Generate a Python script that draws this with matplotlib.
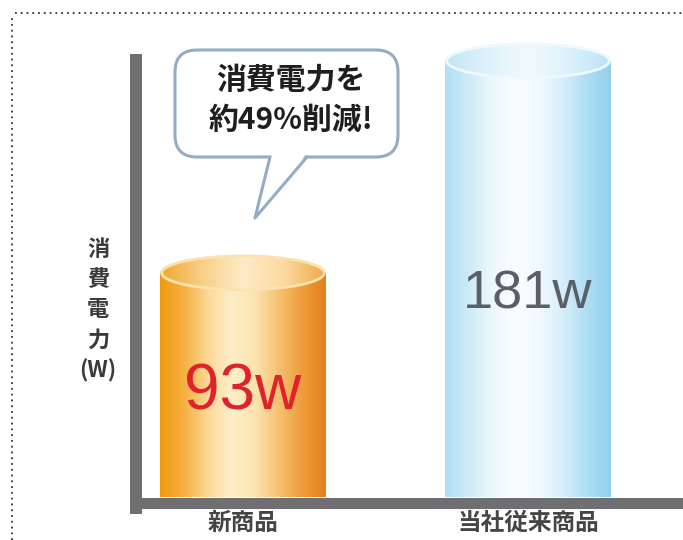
import matplotlib.pyplot as plt
import numpy as np
from matplotlib.colors import LinearSegmentedColormap
from matplotlib.patches import Rectangle, Ellipse, FancyBboxPatch, Polygon
from matplotlib.lines import Line2D

plt.rcParams['font.family'] = ['Noto Sans CJK JP', 'DejaVu Sans']

products = ["新商品", "当社従来商品"]
watts = [93, 181]
value_labels = ["93w", "181w"]
value_colors = ["#e1222a", "#59606a"]
value_sizes = [46, 39]
bubble_text = "消費電力を\n約49%削減!"
ylabel = "消\n費\n電\n力\n(W)"

# horizontal shading of each cylinder, left edge -> right edge
body_stops = [
    ["#f09a12", "#f5b140", "#fbd896", "#fdeec8", "#fce4b0", "#f6c272", "#ee9c3c", "#e2801c"],
    ["#b3def3", "#cdebf8", "#ecf8fd", "#fafdff", "#f0f9fd", "#d5eef9", "#aedef3", "#93d0ed"],
]
lid_stops = [
    ["#f2a630", "#f8cf86", "#fdebc8", "#fbd9a0", "#f0a84a"],
    ["#c2e5f6", "#ddf2fb", "#f2fafe", "#dcf1fb", "#bbe2f5"],
]
lid_edges = ["#fbe3b0", "#eef9fe"]

fig = plt.figure(figsize=(6.83, 5.4), dpi=100)
ax = fig.add_axes([142 / 683, 43 / 540, 541 / 683, 482 / 540])

bar_w = 0.579
lid_h = 14.9
grad = np.linspace(0, 1, 256).reshape(1, -1)


def draw_cylinder(x, top, stops, lstops, ledge):
    cmap = LinearSegmentedColormap.from_list("body", stops)
    x0, x1 = x - bar_w / 2, x + bar_w / 2
    body = Rectangle((x0, 0), bar_w, top, transform=ax.transData)
    im = ax.imshow(grad, cmap=cmap, extent=[x0, x1, 0, top], aspect='auto', zorder=2)
    im.set_clip_path(body)
    lcmap = LinearSegmentedColormap.from_list("lid", lstops)
    lid = Ellipse((x, top), bar_w, lid_h, transform=ax.transData)
    im2 = ax.imshow(grad, cmap=lcmap, extent=[x0, x1, top - lid_h / 2, top + lid_h / 2],
                    aspect='auto', zorder=3)
    im2.set_clip_path(lid)
    ax.add_patch(Ellipse((x, top), bar_w * 0.985, lid_h * 0.94, fill=False,
                         ec=ledge, lw=2.0, zorder=4))


for i in range(len(watts)):
    draw_cylinder(i, watts[i], body_stops[i], lid_stops[i], lid_edges[i])
    ax.text(i, watts[i] * 0.465, value_labels[i], color=value_colors[i], ha='center',
            va='center', fontsize=value_sizes[i], family=['Liberation Sans', 'DejaVu Sans'],
            zorder=5)

ax.set_xlim(-0.3544, 1.5439)
ax.set_ylim(0, 200)
ax.set_facecolor('none')

for s in ['top', 'right']:
    ax.spines[s].set_visible(False)
axis_gray = "#6f6f72"
ax.spines['left'].set_position(('outward', 4.32))
ax.spines['left'].set_linewidth(8.64)
ax.spines['left'].set_color(axis_gray)
ax.spines['left'].set_bounds(-4.6, 181.3)
ax.spines['bottom'].set_position(('outward', 3.96))
ax.spines['bottom'].set_linewidth(7.92)
ax.spines['bottom'].set_color(axis_gray)

ax.set_yticks([])
ax.set_xticks(range(len(products)), products)
ax.tick_params(axis='x', length=0, pad=6, labelsize=17, labelcolor='#454545')
for lab in ax.get_xticklabels():
    lab.set_fontweight('bold')

fig.text(98 / 683, 1 - 310 / 540, ylabel, ha='center', va='center', fontsize=16,
         fontweight='bold', color='#3a3a3a', linespacing=1.4)

# speech bubble
inch = fig.dpi_scale_trans
bubble = FancyBboxPatch((1.75, 3.83), 2.23, 1.07, boxstyle="round,pad=0,rounding_size=0.22",
                        transform=inch, fc='white', ec='#93adc6', lw=2.2, zorder=10)
fig.add_artist(bubble)
tail = Polygon([(2.70, 3.87), (3.07, 3.87), (2.55, 3.22)], closed=True, transform=inch,
               fc='white', ec='none', zorder=11)
fig.add_artist(tail)
fig.add_artist(Line2D([2.70, 2.55, 3.07], [3.83, 3.22, 3.83], transform=inch,
                      color='#93adc6', lw=2.2, zorder=12))
fig.text(291 / 683, 1 - 100 / 540, bubble_text, ha='center', va='center', fontsize=21.5,
         fontweight='bold', color='#1e1e1e', linespacing=1.42, zorder=13)

# dotted frame
fig.add_artist(Line2D([15 / 683, 1], [1 - 13 / 540] * 2, transform=fig.transFigure,
                      color='#333333', lw=1.3, ls=(0, (1, 2.2))))
fig.add_artist(Line2D([12 / 683] * 2, [0, 1 - 15 / 540], transform=fig.transFigure,
                      color='#333333', lw=1.3, ls=(0, (1, 2.2))))

plt.savefig("out.png")
